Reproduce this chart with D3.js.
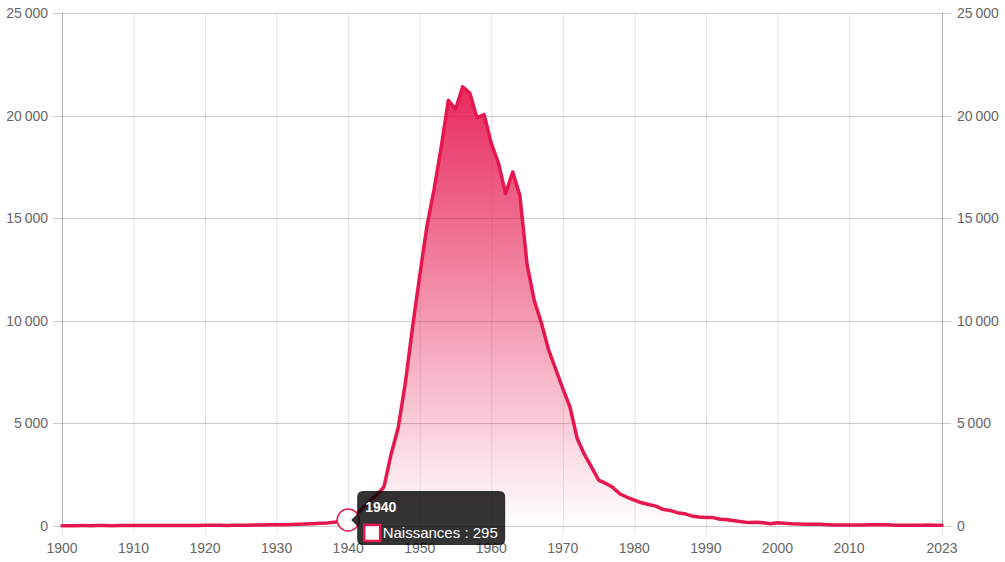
<!DOCTYPE html>
<html>
<head>
<meta charset="utf-8">
<script src="https://cdn.jsdelivr.net/npm/d3@7"></script>
<style>
  html, body { margin: 0; padding: 0; background: #fff; }
  svg { display: block; font-family: "Liberation Sans", Arial, sans-serif; }
</style>
</head>
<body>
<svg id="chart" width="1005" height="562"></svg>
<script>
// Naissances par année, 1900 -> 2023
const startYear = 1900;
const births = [
  15, 18, 15, 20, 18, 22, 20, 18, 22, 25,
  25, 28, 25, 22, 25, 20, 22, 25, 28, 30,
  32, 35, 33, 30, 35, 38, 40, 45, 48, 55,
  60, 65, 70, 80, 95, 115, 130, 150, 185, 220,
  295, 520, 850, 1230, 1520, 1900, 3500, 4800, 7000, 9700,
  12200, 14600, 16400, 18450, 20750, 20300, 21400, 21100, 19900, 20050,
  18650, 17700, 16200, 17250, 16100, 12750, 11000, 9900, 8600, 7650,
  6700, 5800, 4280, 3500, 2880, 2240, 2080, 1880, 1560, 1400,
  1260, 1130, 1050, 970, 810, 760, 650, 600, 490, 440,
  410, 410, 330, 300, 260, 210, 165, 180, 160, 115,
  160, 130, 110, 100, 85, 80, 80, 65, 50, 50,
  50, 50, 50, 65, 55, 60, 45, 40, 40, 40,
  40, 45, 40, 40
];
const years = births.map((d, i) => startYear + i);
const xTicks = [1900, 1910, 1920, 1930, 1940, 1950, 1960, 1970, 1980, 1990, 2000, 2010, 2023];
const yTicks = [0, 5000, 10000, 15000, 20000, 25000];
const seriesLabel = "Naissances";
const hoverYear = 1940;

const data = years.map((y, i) => ({ year: y, value: births[i] }));

const color = "#e6174f";
const svg = d3.select("#chart");

const x = d3.scaleLinear().domain([1900, 2023]).range([62, 942]);
const y = d3.scaleLinear().domain([0, 25000]).range([526, 13]);

const fmt = v => d3.format(",")(v).replace(/,/g, "\u202F");

// gradient fill
const defs = svg.append("defs");
const grad = defs.append("linearGradient")
  .attr("id", "fillGrad")
  .attr("gradientUnits", "userSpaceOnUse")
  .attr("x1", 0).attr("x2", 0)
  .attr("y1", y(d3.max(births))).attr("y2", y(0));
grad.append("stop").attr("offset", 0).attr("stop-color", color).attr("stop-opacity", 0.92);
grad.append("stop").attr("offset", 1).attr("stop-color", color).attr("stop-opacity", 0);

// grid
const grid = svg.append("g");
grid.selectAll("line.v")
  .data(xTicks)
  .join("line")
  .attr("class", "v")
  .attr("x1", d => x(d) + 0.5).attr("x2", d => x(d) + 0.5)
  .attr("y1", y(25000)).attr("y2", y(0) + 8)
  .attr("stroke", "rgba(0,0,0,0.1)");
grid.selectAll("line.h")
  .data(yTicks)
  .join("line")
  .attr("class", "h")
  .attr("x1", x(1900) - 9).attr("x2", x(2023) + 9)
  .attr("y1", d => Math.round(y(d)) + 0.5).attr("y2", d => Math.round(y(d)) + 0.5)
  .attr("stroke", "rgba(0,0,0,0.2)");
// axis borders
svg.append("line")
  .attr("x1", x(1900) + 0.5).attr("x2", x(1900) + 0.5)
  .attr("y1", y(25000)).attr("y2", y(0))
  .attr("stroke", "rgba(0,0,0,0.2)");
svg.append("line")
  .attr("x1", x(2023) + 0.5).attr("x2", x(2023) + 0.5)
  .attr("y1", y(25000)).attr("y2", y(0))
  .attr("stroke", "rgba(0,0,0,0.2)");

// area + line
const area = d3.area().x(d => x(d.year)).y0(y(0)).y1(d => y(d.value));
const line = d3.line().x(d => x(d.year)).y(d => y(d.value));

svg.append("path").datum(data).attr("d", area).attr("fill", "url(#fillGrad)");
svg.append("path").datum(data).attr("d", line)
  .attr("fill", "none").attr("stroke", color)
  .attr("stroke-width", 3.5).attr("stroke-linejoin", "round").attr("stroke-linecap", "round");

// axes labels
const labels = svg.append("g").attr("fill", "#666").attr("font-size", 14);
labels.selectAll("text.yl")
  .data(yTicks).join("text").attr("class", "yl")
  .attr("x", 48).attr("y", d => y(d)).attr("dy", "0.35em")
  .attr("text-anchor", "end").text(fmt);
labels.selectAll("text.yr")
  .data(yTicks).join("text").attr("class", "yr")
  .attr("x", 957).attr("y", d => y(d)).attr("dy", "0.35em")
  .attr("text-anchor", "start").text(fmt);
labels.selectAll("text.xl")
  .data(xTicks).join("text").attr("class", "xl")
  .attr("x", d => x(d)).attr("y", 553)
  .attr("text-anchor", "middle").text(d => d);

// hover point
const hp = data.find(d => d.year === hoverYear);
const px = x(hp.year), py = y(hp.value);
svg.append("circle")
  .attr("cx", px).attr("cy", py).attr("r", 11)
  .attr("fill", "#fff").attr("stroke", color).attr("stroke-width", 1.5);

// tooltip
const tip = svg.append("g").attr("transform", `translate(${px + 9},${py - 29})`);
const tw = 148, th = 54;
tip.append("path")
  .attr("d", `M6,0 H${tw - 6} Q${tw},0 ${tw},6 V${th - 6} Q${tw},${th} ${tw - 6},${th} H6 Q0,${th} 0,${th - 6} V35 L-6,29 L0,23 V6 Q0,0 6,0 Z`)
  .attr("fill", "rgba(0,0,0,0.8)");
tip.append("text")
  .attr("x", 8).attr("y", 21)
  .attr("fill", "#fff").attr("font-size", 14).attr("font-weight", "bold")
  .text(hp.year);
tip.append("rect")
  .attr("x", 7).attr("y", 34).attr("width", 16).attr("height", 16)
  .attr("fill", "#fff").attr("stroke", color).attr("stroke-width", 2.5);
tip.append("text")
  .attr("x", 25.5).attr("y", 47.5)
  .attr("fill", "#fff").attr("font-size", 15)
  .text(`${seriesLabel} : ${fmt(hp.value)}`);
</script>
</body>
</html>
